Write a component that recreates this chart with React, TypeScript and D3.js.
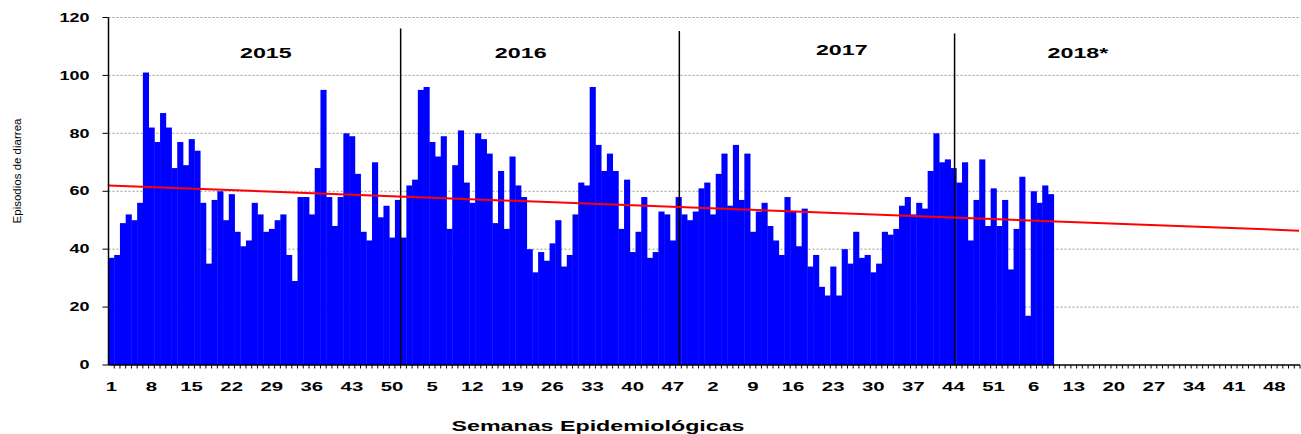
import React from "react";
import * as d3 from "d3";

// ---- Data (weekly diarrhea episodes) ----
const years = [2015, 2016, 2017, 2018];
const weeksPerYear = 52;

const values2015 = [
  37, 38, 49, 52, 50, 56, 101, 82, 77, 87,
  82, 68, 77, 69, 78, 74, 56, 35, 57, 60,
  50, 59, 46, 41, 43, 56, 52, 46, 47, 50,
  52, 38, 29, 58, 58, 52, 68, 95, 58, 48,
  58, 80, 79, 66, 46, 43, 70, 51, 55, 44,
  57, 44,
];
const values2016 = [
  62, 64, 95, 96, 77, 72, 79, 47, 69, 81,
  63, 56, 80, 78, 73, 49, 67, 47, 72, 62,
  58, 40, 32, 39, 36, 42, 50, 34, 38, 52,
  63, 62, 96, 76, 67, 73, 67, 47, 64, 39,
  46, 58, 37, 39, 53, 52, 43, 58, 52, 50,
  53, 61,
];
const values2017 = [
  63, 52, 66, 73, 55, 76, 57, 73, 46, 53,
  56, 48, 43, 38, 58, 53, 41, 54, 34, 38,
  27, 24, 34, 24, 40, 35, 46, 37, 38, 32,
  35, 46, 45, 47, 55, 58, 52, 56, 54, 67,
  80, 70, 71, 68, 63, 70, 43, 57, 71, 48,
  61, 48,
];
const values2018 = [57, 33, 47, 65, 17, 60, 56, 62, 59];

const seriesByYear = [values2015, values2016, values2017, values2018];
const yearLabels = ["2015", "2016", "2017", "2018*"];
const yTicks = [0, 20, 40, 60, 80, 100, 120];
const tickEvery = 7;

// trend line (linear) start/end values across the whole axis
const trendStart = 62.0;
const trendEnd = 46.4;

// year separators: [category key, fraction within band, top value]
const separators: [string, number, number][] = [
  ["2015-52", 0.0, 116.2],
  ["2016-48", 0.65, 115.3],
  ["2017-44", 0.7, 114.5],
];

// year label anchors: [category key, fraction within band, baseline value]
const yearLabelPos: [string, number, number][] = [
  ["2015-28", 0.46, 106.0],
  ["2016-20", 0.96, 106.0],
  ["2017-25", 0.0, 106.9],
  ["2018-14", 0.23, 106.0],
];

const categories: { key: string; week: number; year: number }[] = [];
years.forEach((yr) => {
  for (let w = 1; w <= weeksPerYear; w++) categories.push({ key: `${yr}-${w}`, week: w, year: yr });
});

const bars: { key: string; value: number }[] = [];
years.forEach((yr, i) => {
  seriesByYear[i].forEach((v, j) => bars.push({ key: `${yr}-${j + 1}`, value: v }));
});

const FONT = "'Liberation Sans', Arial, Helvetica, sans-serif";

export default function App() {
  const W = 1301;
  const H = 434;
  const x = d3
    .scaleBand<string>()
    .domain(categories.map((c) => c.key))
    .range([108.5, 1300])
    .paddingInner(0)
    .paddingOuter(0);
  const y = d3.scaleLinear().domain([0, 120]).range([365, 17.5]);
  const bw = x.bandwidth();
  const x0 = x.range()[0];
  const x1 = x.range()[1];

  const trendLine = d3
    .line<[number, number]>()
    .x((d) => d[0])
    .y((d) => y(d[1]));

  return (
    <div style={{ position: "absolute", left: 0, top: 0 }}>
      <svg width={W} height={H} style={{ display: "block", background: "#fff" }}>
        {/* gridlines */}
        {yTicks
          .filter((t) => t > 0)
          .map((t) => (
            <line
              key={`g${t}`}
              x1={x0}
              x2={x1}
              y1={y(t)}
              y2={y(t)}
              stroke="#9a9a9a"
              strokeWidth={1}
              strokeDasharray="2,2"
            />
          ))}

        {/* bars */}
        {bars.map((b) => (
          <rect
            key={b.key}
            x={x(b.key)!}
            y={y(b.value)}
            width={bw + 0.4}
            height={y(0) - y(b.value)}
            fill="#0000FF"
          />
        ))}

        {/* year separators */}
        {separators.map(([k, f, top]) => {
          const xx = x(k)! + f * bw;
          return <line key={`s${k}`} x1={xx} x2={xx} y1={y(0)} y2={y(top)} stroke="#000" strokeWidth={1.5} />;
        })}

        {/* trend line */}
        <path
          d={trendLine([
            [x0, trendStart],
            [x1 - 1, trendEnd],
          ])!}
          stroke="#FF0000"
          strokeWidth={2}
          fill="none"
        />

        {/* y axis */}
        <line x1={x0} x2={x0} y1={y(0)} y2={y(120)} stroke="#000" strokeWidth={1.5} />
        {yTicks.map((t) => (
          <g key={`yt${t}`}>
            <line x1={x0 - 6} x2={x0} y1={y(t)} y2={y(t)} stroke="#000" strokeWidth={1} />
            <text
              transform={`translate(89.5,${y(t) + 4.2}) scale(1.5,1)`}
              textAnchor="end"
              fontFamily={FONT}
              fontWeight="bold"
              fontSize={12}
              fill="#000"
            >
              {t}
            </text>
          </g>
        ))}

        {/* x axis */}
        <line x1={x0} x2={x1} y1={y(0)} y2={y(0)} stroke="#000" strokeWidth={1.5} />
        {categories.map((c) => (
          <line
            key={`xt${c.key}`}
            x1={x(c.key)! + bw}
            x2={x(c.key)! + bw}
            y1={y(0)}
            y2={y(0) + 3.5}
            stroke="#000"
            strokeWidth={1}
          />
        ))}
        {categories
          .filter((_, i) => i % tickEvery === 0)
          .map((c) => (
            <text
              key={`xl${c.key}`}
              transform={`translate(${x(c.key)! + bw / 2},391) scale(1.7,1)`}
              textAnchor="middle"
              fontFamily={FONT}
              fontWeight="bold"
              fontSize={12}
              fill="#000"
            >
              {c.week}
            </text>
          ))}

        {/* year labels */}
        {yearLabelPos.map(([k, f, v], i) => (
          <text
            key={`yl${k}`}
            transform={`translate(${x(k)! + f * bw},${y(v)}) scale(1.5,1)`}
            textAnchor="middle"
            fontFamily={FONT}
            fontWeight="bold"
            fontSize={15.5}
            fill="#000"
          >
            {yearLabels[i]}
          </text>
        ))}

        {/* axis titles */}
        <text
          transform="translate(598,431) scale(1.55,1)"
          textAnchor="middle"
          fontFamily={FONT}
          fontWeight="bold"
          fontSize={15}
          fill="#000"
        >
          Semanas Epidemiológicas
        </text>
        <text
          transform="translate(21,171) rotate(-90)"
          textAnchor="middle"
          fontFamily={FONT}
          fontSize={11.5}
          fill="#000"
        >
          Episodios de diarrea
        </text>
      </svg>
    </div>
  );
}
